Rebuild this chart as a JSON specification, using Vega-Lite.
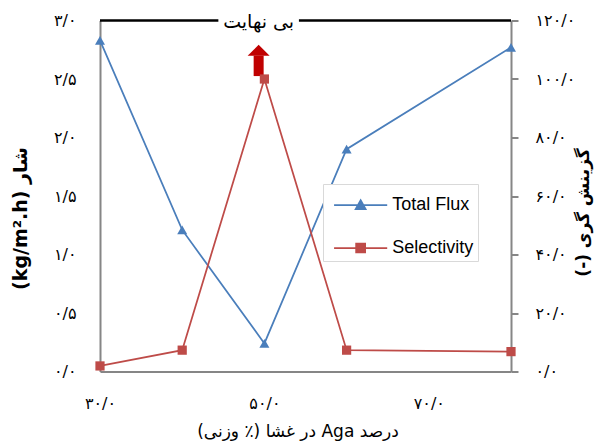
{
  "$schema": "https://vega.github.io/schema/vega-lite/v6.json",
  "width": 411,
  "height": 351,
  "autosize": "none",
  "padding": {"left": 100, "top": 20.5, "right": 84, "bottom": 74.5},
  "datasets": {
    "main": [
      {"aga": 30, "flux": 2.83, "sel": 1.9},
      {"aga": 40, "flux": 1.21, "sel": 7.3},
      {"aga": 50, "flux": 0.24, "sel": 100},
      {"aga": 60, "flux": 1.9, "sel": 7.3},
      {"aga": 80, "flux": 2.77, "sel": 6.8}
    ],
    "topline": [
      {"aga": 30, "aga2": 44.4, "flux": 3},
      {"aga": 54.2, "aga2": 80, "flux": 3}
    ],
    "toplabel": [
      {"aga": 49.3, "flux": 3, "t": "بی نهایت"}
    ],
    "shaft": [
      {"aga": 49.3, "sel": 101, "sel2": 108}
    ],
    "head": [
      {"aga": 49.3, "sel": 109.8}
    ]
  },
  "encoding": {
    "x": {
      "field": "aga",
      "type": "quantitative",
      "scale": {"domain": [30, 80], "nice": false, "zero": false},
      "axis": {
        "title": "\u202bدرصد Aga در غشا (٪ وزنی)\u202c",
        "values": [30, 50, 70],
        "labelExpr": "datum.value == 30 ? '۳۰/۰' : datum.value == 50 ? '۵۰/۰' : '۷۰/۰'",
        "labelFlush": false,
        "ticks": false,
        "grid": false,
        "domainColor": "#868686",
        "domainWidth": 2,
        "labelPadding": 24,
        "labelFontSize": 16,
        "labelFont": "DejaVu Sans",
        "labelColor": "black",
        "titleFont": "DejaVu Sans",
        "titleFontSize": 17,
        "titleFontWeight": "normal",
        "titleColor": "black",
        "titleX": 197.5,
        "titleY": 60,
        "titleAlign": "center",
        "titleBaseline": "middle"
      }
    }
  },
  "layer": [
    {
      "encoding": {
        "y": {
          "field": "flux",
          "type": "quantitative",
          "scale": {"domain": [0, 3], "nice": false},
          "axis": {
            "title": "(kg/m².h) شار",
            "values": [0, 0.5, 1, 1.5, 2, 2.5, 3],
            "labelExpr": "datum.value == 0 ? '۰/۰' : datum.value == 0.5 ? '۰/۵' : datum.value == 1 ? '۱/۰' : datum.value == 1.5 ? '۱/۵' : datum.value == 2 ? '۲/۰' : datum.value == 2.5 ? '۲/۵' : '۳/۰'",
            "labelFlush": false,
            "ticks": false,
            "grid": false,
            "domainColor": "#868686",
            "domainWidth": 2,
            "labelPadding": 24,
            "labelFontSize": 16,
            "labelFont": "DejaVu Sans",
            "labelColor": "black",
            "titleFont": "DejaVu Sans",
            "titleFontSize": 19,
            "titleFontWeight": "bold",
            "titleColor": "black",
            "titleAngle": -90,
            "titleX": -80,
            "titleY": 197.5,
            "titleAlign": "center",
            "titleBaseline": "middle"
          }
        }
      },
      "layer": [
        {
          "data": {"name": "main"},
          "mark": {"type": "line", "color": "#4a7ebb", "strokeWidth": 1.75}
        },
        {
          "data": {"name": "main"},
          "mark": {"type": "point", "shape": "triangle-up", "filled": true, "opacity": 1, "color": "#4a7ebb", "size": 100}
        },
        {
          "data": {"name": "topline"},
          "mark": {"type": "rule", "color": "black", "strokeWidth": 2.5},
          "encoding": {"x2": {"field": "aga2"}}
        },
        {
          "data": {"name": "toplabel"},
          "mark": {"type": "text", "font": "DejaVu Sans", "fontSize": 19, "color": "black", "align": "center", "baseline": "middle", "dy": 1},
          "encoding": {"text": {"field": "t"}}
        }
      ]
    },
    {
      "encoding": {
        "y": {
          "field": "sel",
          "type": "quantitative",
          "scale": {"domain": [0, 120], "nice": false},
          "axis": {
            "orient": "right",
            "title": "(-) گزینش گری",
            "values": [0, 20, 40, 60, 80, 100, 120],
            "labelExpr": "datum.value == 0 ? '۰/۰' : datum.value == 20 ? '۲۰/۰' : datum.value == 40 ? '۴۰/۰' : datum.value == 60 ? '۶۰/۰' : datum.value == 80 ? '۸۰/۰' : datum.value == 100 ? '۱۰۰/۰' : '۱۲۰/۰'",
            "labelFlush": false,
            "ticks": true,
            "tickSize": 7,
            "tickColor": "#868686",
            "tickWidth": 2,
            "grid": false,
            "domainColor": "#868686",
            "domainWidth": 2,
            "labelPadding": 17,
            "labelFontSize": 16,
            "labelFont": "DejaVu Sans",
            "labelColor": "black",
            "titleFont": "DejaVu Sans",
            "titleFontSize": 17,
            "titleFontWeight": "bold",
            "titleColor": "black",
            "titleAngle": -90,
            "titleX": 72,
            "titleY": 191.5,
            "titleAlign": "center",
            "titleBaseline": "middle"
          }
        }
      },
      "layer": [
        {
          "data": {"name": "shaft"},
          "mark": {"type": "rule", "color": "#c00000", "strokeWidth": 10},
          "encoding": {"y2": {"field": "sel2"}}
        },
        {
          "data": {"name": "head"},
          "mark": {"type": "point", "shape": "M-1,0.5H1L0,-0.5Z", "filled": true, "opacity": 1, "color": "#c00000", "size": 484}
        },
        {
          "data": {"name": "main"},
          "mark": {"type": "line", "color": "#be4b48", "strokeWidth": 1.75}
        },
        {
          "data": {"name": "main"},
          "mark": {"type": "point", "shape": "square", "filled": true, "opacity": 1, "color": "#be4b48", "size": 85}
        }
      ]
    },
    {
      "data": {"values": []},
      "mark": {"type": "point", "filled": true, "opacity": 1, "size": 1024, "strokeWidth": 1.75},
      "encoding": {
        "shape": {
          "field": "s",
          "type": "nominal",
          "scale": {"domain": ["Total Flux", "Selectivity"], "range": ["M-0.62,0H2.7M1.04,-0.3L1.35,0.25H0.73Z", "M-0.62,0H2.7M0.76,-0.28H1.32V0.28H0.76Z"]},
          "legend": {"title": null, "orient": "none", "legendX": 223, "legendY": 163.5}
        },
        "fill": {
          "field": "s",
          "type": "nominal",
          "scale": {"domain": ["Total Flux", "Selectivity"], "range": ["#4a7ebb", "#be4b48"]},
          "legend": {"title": null, "orient": "none", "legendX": 223, "legendY": 163.5}
        },
        "stroke": {
          "field": "s",
          "type": "nominal",
          "scale": {"domain": ["Total Flux", "Selectivity"], "range": ["#4a7ebb", "#be4b48"]},
          "legend": {"title": null, "orient": "none", "legendX": 223, "legendY": 163.5}
        }
      }
    }
  ],
  "resolve": {"scale": {"y": "independent"}},
  "config": {
    "view": {"stroke": null},
    "legend": {
      "padding": 4,
      "rowPadding": 17,
      "labelFont": "Liberation Sans",
      "labelFontSize": 18,
      "labelColor": "black",
      "labelOffset": 31.25,
      "strokeColor": "#d9d9d9",
      "fillColor": "white",
      "symbolSize": 1024,
      "symbolStrokeWidth": 1.75,
      "symbolOpacity": 1
    }
  }
}
